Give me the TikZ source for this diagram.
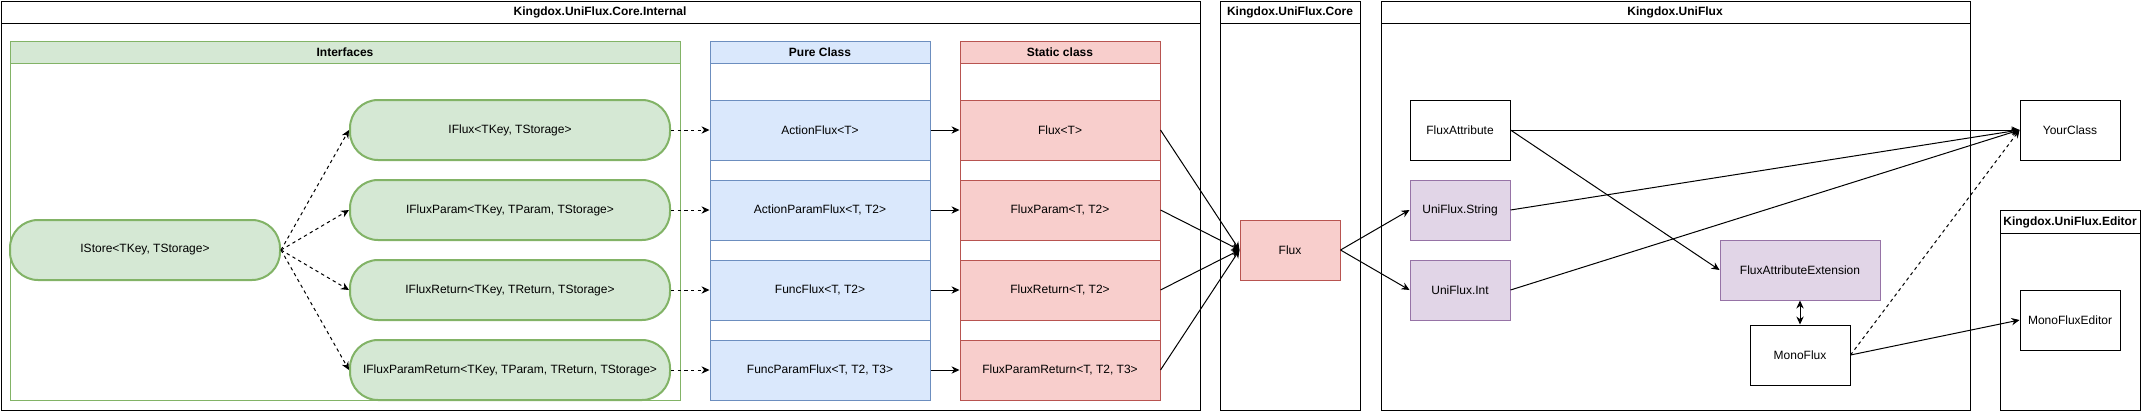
\documentclass[tikz,border=0pt]{standalone}
\usepackage{fontspec}
\setmainfont{Liberation Sans}
\usetikzlibrary{arrows.meta}

\definecolor{greenfill}{HTML}{D5E8D4}
\definecolor{greenline}{HTML}{82B366}
\definecolor{bluefill}{HTML}{DAE8FC}
\definecolor{blueline}{HTML}{6C8EBF}
\definecolor{redfill}{HTML}{F8CECC}
\definecolor{redline}{HTML}{B85450}
\definecolor{purplefill}{HTML}{E1D5E7}
\definecolor{purpleline}{HTML}{9673A6}

\tikzset{every picture/.style={line width=0.75pt}}
\tikzset{
  lanetitle/.style={inner sep=0.75pt, font=\fontsize{9}{11}\selectfont\bfseries},
  greenpill/.style={draw=greenline, fill=greenfill, line width=1.5pt, rounded corners=21pt, minimum width=240pt, minimum height=45pt, inner sep=0pt},
  bluerow/.style={draw=blueline, fill=bluefill, minimum width=165pt, minimum height=45pt, inner sep=0pt},
  redrow/.style={draw=redline, fill=redfill, minimum width=150pt, minimum height=45pt, inner sep=0pt},
  purplebox/.style={draw=purpleline, fill=purplefill, minimum width=75pt, minimum height=45pt, inner sep=0pt},
  plainbox/.style={draw=black, fill=white, minimum width=75pt, minimum height=45pt, inner sep=0pt},
  dasharrow/.style={->, dash pattern=on 2.5pt off 2.5pt},
  solidarrow/.style={->}
}

\begin{document}
\begin{tikzpicture}[x=0.75pt,y=0.75pt,yscale=-1,xscale=1, font=\fontsize{9}{11}\selectfont, >={Stealth[length=6pt,width=5.5pt]}]
\useasboundingbox (0,0) rectangle (2141,411);

% Container: Kingdox.UniFlux.Core.Internal
\draw [fill=white] (1,1) rectangle (1200,410);
\draw (1,23) -- (1200,23);
\node [lanetitle] (internaltitle) at (600,12) {Kingdox.UniFlux.Core.Internal};

% Container: Interfaces
\draw [draw=greenline, fill=white] (10,41) rectangle (680,400);
\draw [draw=greenline, fill=greenfill] (10,41) rectangle (680,63);
\node [lanetitle] (interfacestitle) at (345,52) {Interfaces};

% Container: Pure Class
\draw [draw=blueline, fill=white] (710,41) rectangle (930,400);
\draw [draw=blueline, fill=bluefill] (710,41) rectangle (930,63);
\node [lanetitle] (puretitle) at (820,52) {Pure Class};

% Container: Static class
\draw [draw=redline, fill=white] (960,41) rectangle (1160,400);
\draw [draw=redline, fill=redfill] (960,41) rectangle (1160,63);
\node [lanetitle] (statictitle) at (1060,52) {Static class};

% Container: Kingdox.UniFlux.Core
\draw [fill=white] (1220,1) rectangle (1360,410);
\draw (1220,23) -- (1360,23);
\node [lanetitle] (coretitle) at (1290,12) {Kingdox.UniFlux.Core};

% Container: Kingdox.UniFlux
\draw [fill=white] (1381,1) rectangle (1970,410);
\draw (1381,23) -- (1970,23);
\node [lanetitle] (unifluxtitle) at (1675,12) {Kingdox.UniFlux};

% Container: Kingdox.UniFlux.Editor
\draw [fill=white] (2000,210) rectangle (2140,410);
\draw (2000,233) -- (2140,233);
\node [lanetitle] (editortitle) at (2070,222) {Kingdox.UniFlux.Editor};

% Interfaces
\node [greenpill, minimum width=202.5pt] (istore) at (145,250) {IStore<TKey, TStorage>};
\node [greenpill] (iflux) at (510,130) {IFlux<TKey, TStorage>};
\node [greenpill] (ifluxparam) at (510,210) {IFluxParam<TKey, TParam, TStorage>};
\node [greenpill] (ifluxreturn) at (510,290) {IFluxReturn<TKey, TReturn, TStorage>};
\node [greenpill] (ifluxparamreturn) at (510,370) {IFluxParamReturn<TKey, TParam, TReturn, TStorage>};

% Pure Class rows
\node [bluerow] (actionflux) at (820,130) {ActionFlux<T>};
\node [bluerow] (actionparamflux) at (820,210) {ActionParamFlux<T, T2>};
\node [bluerow] (funcflux) at (820,290) {FuncFlux<T, T2>};
\node [bluerow] (funcparamflux) at (820,370) {FuncParamFlux<T, T2, T3>};

% Static class rows
\node [redrow] (fluxt) at (1060,130) {Flux<T>};
\node [redrow] (fluxparam) at (1060,210) {FluxParam<T, T2>};
\node [redrow] (fluxreturn) at (1060,290) {FluxReturn<T, T2>};
\node [redrow] (fluxparamreturn) at (1060,370) {FluxParamReturn<T, T2, T3>};

% Core
\node [redrow, minimum width=75pt] (flux) at (1290,250) {Flux};

% UniFlux
\node [plainbox] (fluxattribute) at (1460,130) {FluxAttribute};
\node [purplebox] (unifluxstring) at (1460,210) {UniFlux.String};
\node [purplebox] (unifluxint) at (1460,290) {UniFlux.Int};
\node [purplebox, minimum width=120pt] (fluxattrext) at (1800,270) {FluxAttributeExtension};
\node [plainbox] (monoflux) at (1800,355) {MonoFlux};

% Outside
\node [plainbox] (yourclass) at (2070,130) {YourClass};
\node [plainbox] (monofluxeditor) at (2070,320) {MonoFluxEditor};

% Connectors
\draw [dasharrow] (istore.east) -- (iflux.west);
\draw [dasharrow] (istore.east) -- (ifluxparam.west);
\draw [dasharrow] (istore.east) -- (ifluxreturn.west);
\draw [dasharrow] (istore.east) -- (ifluxparamreturn.west);

\draw [dasharrow] (iflux.east) -- (actionflux.west);
\draw [dasharrow] (ifluxparam.east) -- (actionparamflux.west);
\draw [dasharrow] (ifluxreturn.east) -- (funcflux.west);
\draw [dasharrow] (ifluxparamreturn.east) -- (funcparamflux.west);

\draw [solidarrow] (actionflux.east) -- (fluxt.west);
\draw [solidarrow] (actionparamflux.east) -- (fluxparam.west);
\draw [solidarrow] (funcflux.east) -- (fluxreturn.west);
\draw [solidarrow] (funcparamflux.east) -- (fluxparamreturn.west);

\draw [solidarrow] (fluxt.east) -- (flux.west);
\draw [solidarrow] (fluxparam.east) -- (flux.west);
\draw [solidarrow] (fluxreturn.east) -- (flux.west);
\draw [solidarrow] (fluxparamreturn.east) -- (flux.west);

\draw [solidarrow] (flux.east) -- (unifluxstring.west);
\draw [solidarrow] (flux.east) -- (unifluxint.west);

\draw [solidarrow] (fluxattribute.east) -- (yourclass.west);
\draw [solidarrow] (fluxattribute.east) -- (fluxattrext.west);
\draw [solidarrow] (unifluxstring.east) -- (yourclass.west);
\draw [solidarrow] (unifluxint.east) -- (yourclass.west);

\draw [<->] (fluxattrext.south) -- (monoflux.north);
\draw [dasharrow] (monoflux.east) -- (yourclass.west);
\draw [solidarrow] (monoflux.east) -- (monofluxeditor.west);

\end{tikzpicture}
\end{document}
